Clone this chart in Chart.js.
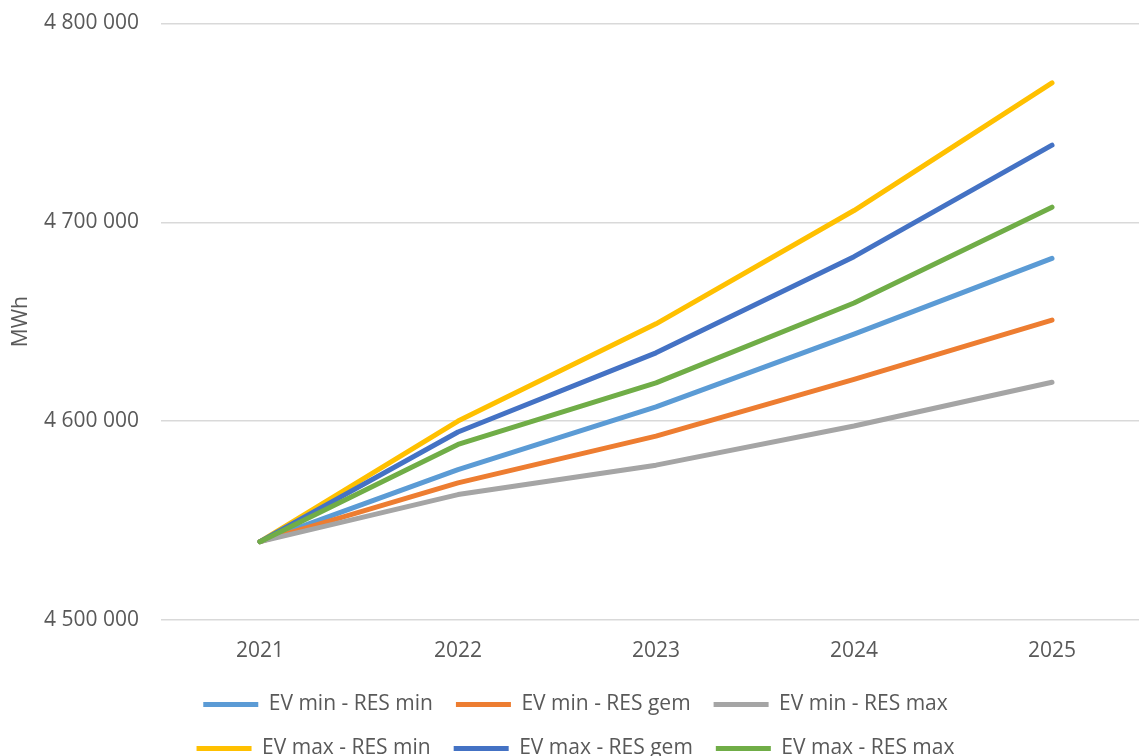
<!DOCTYPE html>
<html>
<head>
<meta charset="utf-8">
<script src="https://cdn.jsdelivr.net/npm/chart.js@4"></script>
<style>
  html, body { margin: 0; padding: 0; overflow: hidden; background: #fff; }
  #wrap { width: 1151px; height: 769px; }
</style>
</head>
<body>
<div id="wrap"><canvas id="verbruik"></canvas></div>
<script>
// data (MWh)
var years = ['2021', '2022', '2023', '2024', '2025'];
var evMinResMin = [4539300, 4575600, 4607100, 4643700, 4681800];
var evMinResGem = [4539300, 4568900, 4592400, 4621000, 4650800];
var evMinResMax = [4539300, 4563000, 4577800, 4597500, 4619500];
var evMaxResMin = [4539300, 4600000, 4648900, 4705900, 4770100];
var evMaxResGem = [4539300, 4594500, 4634300, 4682700, 4738800];
var evMaxResMax = [4539300, 4588200, 4619200, 4659400, 4707600];
var yTicks = [4500000, 4600000, 4700000, 4800000];

var txt = '#595959';
var font = { family: '"Open Sans", sans-serif', size: 21 };

function spaced(v) {
    return String(v).replace(/\B(?=(\d{3})+(?!\d))/g, ' ');
}

function serie(label, data, color, i) {
    return {
        label: label,
        data: data,
        borderColor: color,
        backgroundColor: color,
        borderWidth: 5,
        borderCapStyle: 'round',
        borderJoinStyle: 'round',
        pointRadius: 0,
        tension: 0,
        order: 5 - i
    };
}

// keep the legend at three items per row
var legendRows = {
    id: 'legendRows',
    afterInit: function (chart) {
        var legend = chart.legend;
        var fit = legend.fit;
        legend.fit = function () {
            var full = this.maxWidth;
            this.maxWidth = 900;
            fit.call(this);
            this.maxWidth = full;
            this.width = full;
        };
    }
};

var ctx = document.getElementById('verbruik').getContext('2d');

var lineChart = new Chart(ctx, {
    type: 'line',
    data: {
        labels: years,
        datasets: [
            serie('EV min - RES min', evMinResMin, '#5B9BD5', 0),
            serie('EV min - RES gem', evMinResGem, '#ED7D31', 1),
            serie('EV min - RES max', evMinResMax, '#A5A5A5', 2),
            serie('EV max - RES min', evMaxResMin, '#FFC000', 3),
            serie('EV max - RES gem', evMaxResGem, '#4472C4', 4),
            serie('EV max - RES max', evMaxResMax, '#70AD47', 5)
        ]
    },
    plugins: [legendRows],
    options: {
        responsive: true,
        maintainAspectRatio: false,
        animation: false,
        layout: { padding: { left: 0, top: 23.5, right: 0, bottom: 0 } },
        plugins: {
            tooltip: { enabled: false },
            legend: {
                position: 'bottom',
                labels: {
                    usePointStyle: true,
                    pointStyle: 'line',
                    pointStyleWidth: 55,
                    boxHeight: 21,
                    padding: 23,
                    color: txt,
                    font: font,
                    sort: function (a, b) { return a.datasetIndex - b.datasetIndex; }
                }
            }
        },
        scales: {
            x: {
                offset: true,
                grid: { display: false },
                border: { display: false },
                ticks: { color: txt, font: font, padding: 11 },
                afterFit: function (scale) {
                    scale.height = scale.height - 4;
                }
            },
            y: {
                min: 4500000,
                max: 4800000,
                afterBuildTicks: function (scale) {
                    scale.ticks = yTicks.map(function (v) { return { value: v }; });
                },
                afterFit: function (scale) {
                    scale.width = 161;
                    scale.paddingTop = 0;
                    scale.paddingBottom = 0;
                },
                grid: { color: '#d9d9d9', lineWidth: 1.5, drawTicks: false },
                border: { display: false },
                title: { display: true, text: 'MWh', color: txt, font: font, padding: { top: 8, bottom: 0 } },
                ticks: {
                    color: txt,
                    font: font,
                    padding: 22,
                    callback: function (v) { return spaced(v); }
                }
            }
        }
    }
});
</script>
</body>
</html>
